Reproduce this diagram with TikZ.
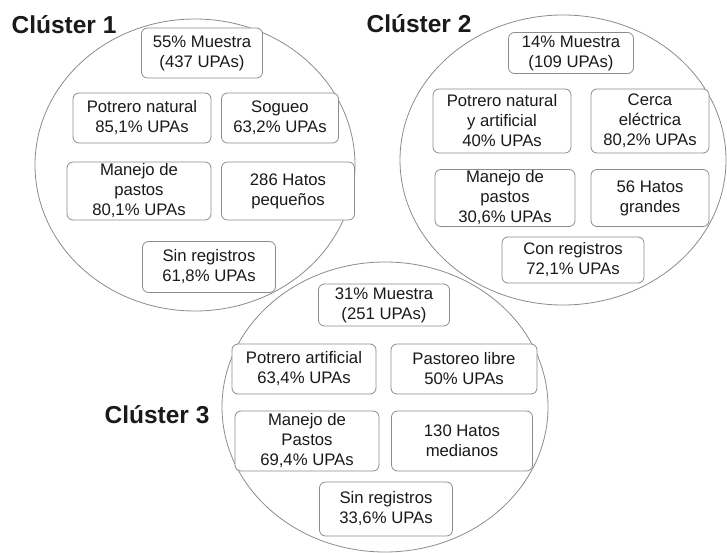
\documentclass[tikz,border=0pt]{standalone}
\usepackage{fontspec}
\setmainfont{Liberation Sans}
\definecolor{linegray}{HTML}{8C8C8C}
\definecolor{boxgray}{HTML}{8C8C8C}
\definecolor{txt}{HTML}{1A1A1A}
\begin{document}
\begin{tikzpicture}[x=1pt,y=-1pt,
  circ/.style={draw=linegray, line width=0.8pt},
  box/.style={draw=boxgray, line width=0.8pt, rounded corners=6pt, fill=white,
    align=center, inner sep=0pt, text=txt, font=\fontsize{16.7}{20}\selectfont},
  lbl/.style={inner sep=0pt, text=txt, font=\fontsize{24.5}{28}\selectfont\bfseries}]
\useasboundingbox (0,0) rectangle (727,553);
\fill[white] (0,0) rectangle (727,553);

% clusters
\draw[circ] (195,165) ellipse [x radius=160pt, y radius=146pt];
\draw[circ] (563,160) ellipse [x radius=163pt, y radius=145pt];
\draw[circ] (385,407) ellipse [x radius=163pt, y radius=145pt];

% labels
\node[lbl] (l1) at (64,25) {Clúster 1};
\node[lbl] (l2) at (419,24) {Clúster 2};
\node[lbl] (l3) at (157,415) {Clúster 3};

% cluster 1
\node[box, minimum width=121pt, minimum height=50pt] (a1) at (202,53) {55\% Muestra\\(437 UPAs)};
\node[box, minimum width=138pt, minimum height=50pt] (a2) at (142,118) {Potrero natural\\85,1\% UPAs};
\node[box, minimum width=117pt, minimum height=50pt] (a3) at (280,118) {Sogueo\\63,2\% UPAs};
\node[box, minimum width=144pt, minimum height=58pt] (a4) at (139,191) {Manejo de\\pastos\\80,1\% UPAs};
\node[box, minimum width=133pt, minimum height=58pt] (a5) at (288,191) {286 Hatos\\pequeños};
\node[box, minimum width=133pt, minimum height=51pt] (a6) at (209,267) {Sin registros\\61,8\% UPAs};

% cluster 2
\node[box, minimum width=125pt, minimum height=41pt] (b1) at (571,53) {14\% Muestra\\(109 UPAs)};
\node[box, minimum width=138pt, minimum height=64pt] (b2) at (502,121) {Potrero natural\\y artificial\\40\% UPAs};
\node[box, minimum width=118pt, minimum height=64pt] (b3) at (650,121) {Cerca\\eléctrica\\80,2\% UPAs};
\node[box, minimum width=140pt, minimum height=57pt] (b4) at (505,198) {Manejo de\\pastos\\30,6\% UPAs};
\node[box, minimum width=118pt, minimum height=57pt] (b5) at (650,198) {56 Hatos\\grandes};
\node[box, minimum width=142pt, minimum height=46pt] (b6) at (573,260) {Con registros\\72,1\% UPAs};

% cluster 3
\node[box, minimum width=131pt, minimum height=42pt] (c1) at (384,305) {31\% Muestra\\(251 UPAs)};
\node[box, minimum width=144pt, minimum height=50pt] (c2) at (304,369) {Potrero artificial\\63,4\% UPAs};
\node[box, minimum width=146pt, minimum height=50pt] (c3) at (464,369) {Pastoreo libre\\50\% UPAs};
\node[box, minimum width=144pt, minimum height=60pt] (c4) at (307,441) {Manejo de\\Pastos\\69,4\% UPAs};
\node[box, minimum width=141pt, minimum height=60pt] (c5) at (462,441) {130 Hatos\\medianos};
\node[box, minimum width=133pt, minimum height=54pt] (c6) at (386,509) {Sin registros\\33,6\% UPAs};
\end{tikzpicture}
\end{document}
